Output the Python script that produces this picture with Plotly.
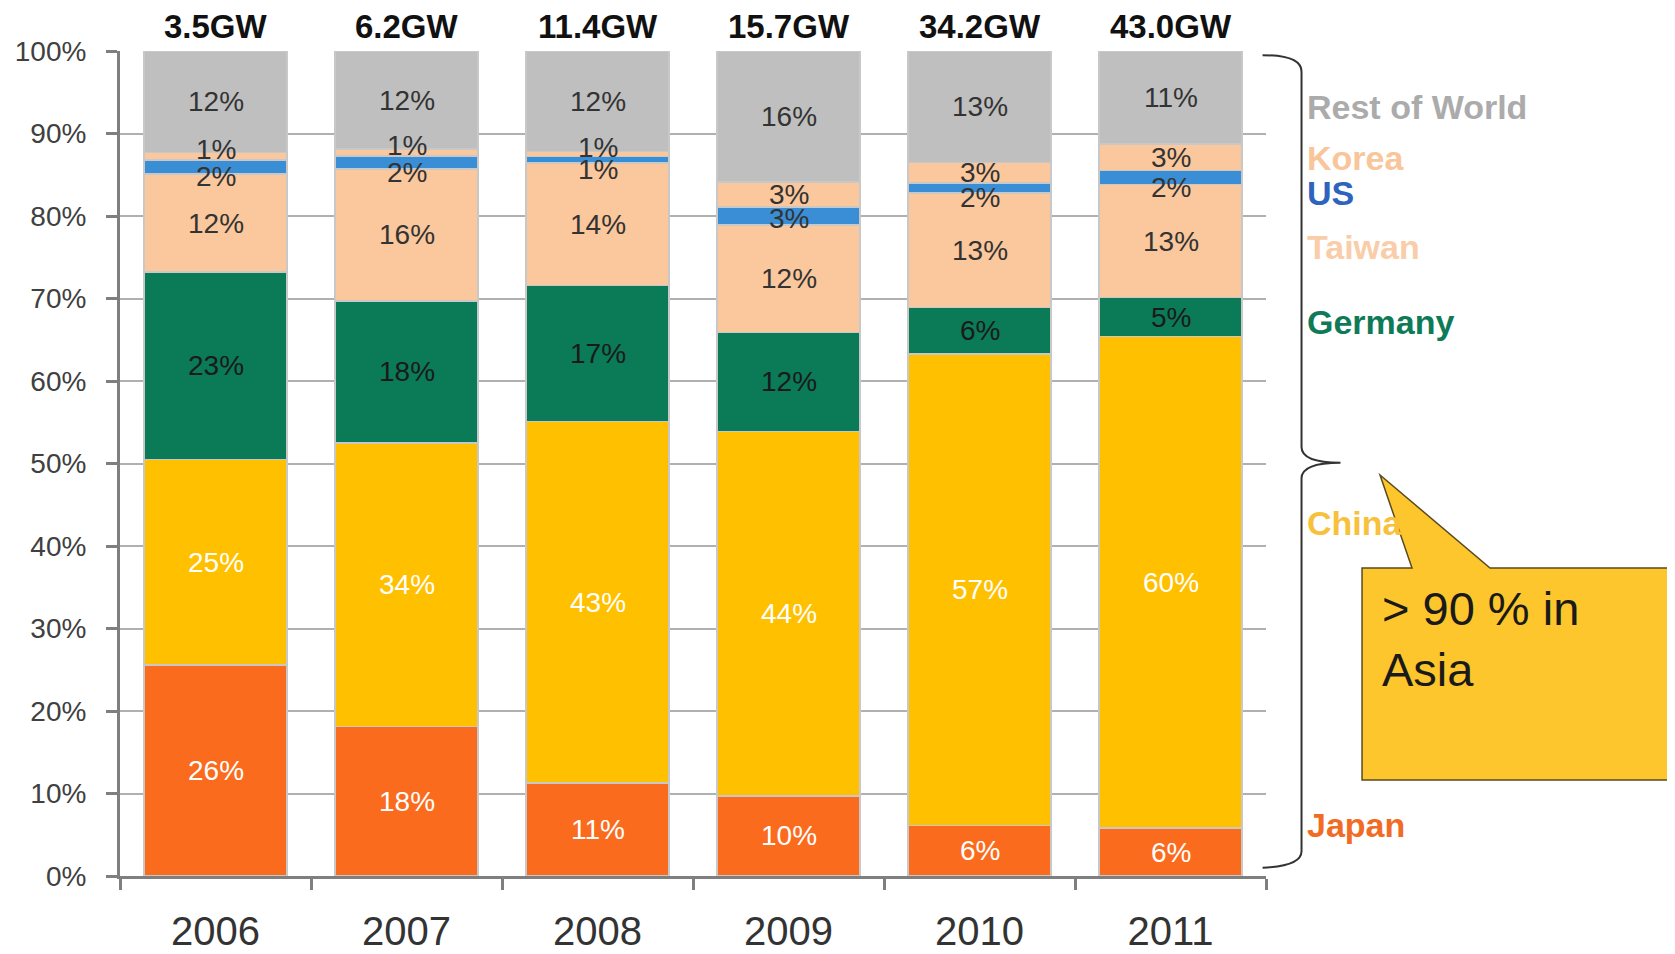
import plotly.graph_objects as go

years = ["2006", "2007", "2008", "2009", "2010", "2011"]
capacity = ["3.5GW", "6.2GW", "11.4GW", "15.7GW", "34.2GW", "43.0GW"]

# segment heights (% of production)
japan = [25.6, 18.1, 11.3, 9.7, 6.1, 5.8]
china = [24.9, 34.4, 43.8, 44.2, 57.2, 59.6]
germany = [22.7, 17.2, 16.5, 12.0, 5.6, 4.7]
taiwan = [11.9, 16.0, 14.8, 13.0, 13.9, 13.7]
us = [1.7, 1.6, 0.8, 2.2, 1.2, 1.7]
korea = [0.9, 0.8, 0.6, 3.0, 2.5, 3.2]
rest = [12.3, 11.9, 12.2, 15.9, 13.5, 11.3]

# printed labels
japan_lbl = ["26%", "18%", "11%", "10%", "6%", "6%"]
china_lbl = ["25%", "34%", "43%", "44%", "57%", "60%"]
germany_lbl = ["23%", "18%", "17%", "12%", "6%", "5%"]
taiwan_lbl = ["12%", "16%", "14%", "12%", "13%", "13%"]
us_lbl = ["2%", "2%", "1%", "3%", "2%", "2%"]
korea_lbl = ["1%", "1%", "1%", "3%", "3%", "3%"]
rest_lbl = ["12%", "12%", "12%", "16%", "13%", "11%"]

FONT = "Liberation Sans, Arial, sans-serif"

# name, values, labels, bar colour, label colour, side-label colour, side-label y
series = [
    ("Japan", japan, japan_lbl, "#FB6B1E", "white", "#F26B25", 6.2),
    ("China", china, china_lbl, "#FFC000", "white", "#F7C13B", 42.8),
    ("Germany", germany, germany_lbl, "#0A7A57", "#1a1a1a", "#0E7A58", 67.2),
    ("Taiwan", taiwan, taiwan_lbl, "#FBC79C", "#333333", "#F9CDA8", 76.2),
    ("US", us, us_lbl, "#3A8ED6", "#333333", "#2F64BE", 82.8),
    ("Korea", korea, korea_lbl, "#FBC79C", "#333333", "#F9C59A", 87.0),
    ("Rest of World", rest, rest_lbl, "#BFBFBF", "#333333", "#ABABAB", 93.2),
]

xpos = list(range(len(years)))

fig = go.Figure()
annotations = []
base = [0.0] * len(years)

for name, vals, lbls, color, tcolor, scolor, sy in series:
    fig.add_trace(go.Bar(
        x=xpos, y=vals, name=name,
        marker=dict(color=color, line=dict(color="#c8c8c8", width=1.5)),
        hoverinfo="skip",
    ))
    for i, v in enumerate(vals):
        shift = 0
        if name == "Korea" and v < 2:
            shift = 7
        if name == "US":
            shift = -10 if v < 2 else -2
        annotations.append(dict(
            x=xpos[i], y=base[i] + v / 2, text=lbls[i], showarrow=False,
            yshift=shift, font=dict(family=FONT, size=28, color=tcolor),
        ))
        base[i] += v
    annotations.append(dict(
        xref="paper", x=1.034, y=sy, text="<b>%s</b>" % name, showarrow=False,
        xanchor="left", font=dict(family=FONT, size=34, color=scolor),
    ))

for i, c in enumerate(capacity):
    annotations.append(dict(
        x=xpos[i], yref="paper", y=1, yanchor="middle", yshift=25,
        text="<b>%s</b>" % c, showarrow=False,
        font=dict(family=FONT, size=33, color="#111111"),
    ))

annotations.append(dict(
    xref="paper", x=1.0995, y=28.7, xanchor="left", yanchor="middle", align="left",
    text="> 90 % in<br>Asia", showarrow=False,
    font=dict(family=FONT, size=47, color="#1a1a1a"),
))

shapes = [
    # brace
    dict(type="path", xref="paper", yref="y",
         path="M 0.997,99.5 Q 1.031,99.5 1.031,97.5 L 1.031,52 Q 1.031,50.1 1.065,50.1 "
              "Q 1.031,50.1 1.031,48.2 L 1.031,3 Q 1.031,1.2 0.997,1.0",
         line=dict(color="#333333", width=2)),
    # callout
    dict(type="path", xref="paper", yref="y",
         path="M 1.0838,37.33 L 1.1274,37.33 L 1.0995,48.6 L 1.1955,37.33 L 1.3543,37.33 "
              "L 1.3543,11.64 L 1.0838,11.64 Z",
         fillcolor="#FDC62C", line=dict(color="#5a4a20", width=1.5)),
]

fig.update_layout(
    barmode="stack", bargap=0.25, showlegend=False,
    width=1667, height=946,
    margin=dict(l=112, r=409, t=43, b=78),
    plot_bgcolor="white", paper_bgcolor="white",
    annotations=annotations, shapes=shapes,
    font=dict(family=FONT, color="#404040"),
)
fig.update_xaxes(
    range=[-0.5, len(years) - 0.5], tickmode="array", tickvals=xpos, ticktext=years,
    ticks="", tickangle=0, automargin=False,
    minor=dict(tickmode="array", tickvals=[i - 0.5 for i in range(len(years) + 1)],
               ticks="outside", ticklen=11, tickwidth=3, tickcolor="#7f7f7f", showgrid=False),
    showline=True, linecolor="#7f7f7f", linewidth=3, showgrid=False, zeroline=False,
    tickfont=dict(size=40, color="#333333"), ticklabelstandoff=18,
)
fig.update_yaxes(
    range=[0, 100], dtick=10, ticksuffix="%", showgrid=True, gridcolor="#b0b0b0", gridwidth=2,
    ticks="outside", ticklen=11, tickwidth=3, tickcolor="#7f7f7f", automargin=False,
    showline=True, linecolor="#7f7f7f", linewidth=3, zeroline=False,
    tickfont=dict(size=28, color="#404040"), ticklabelstandoff=14,
)

fig.write_html("out.html")
